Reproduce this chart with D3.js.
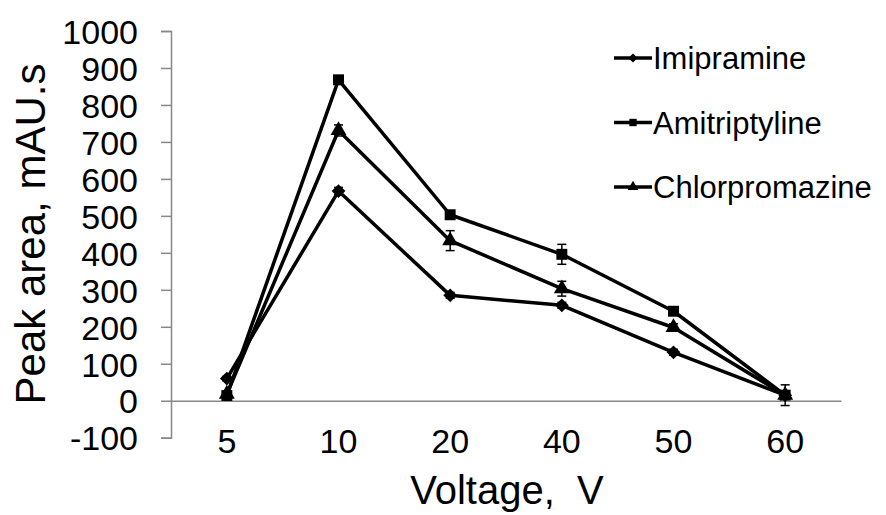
<!DOCTYPE html>
<html>
<head>
<meta charset="utf-8">
<script src="https://cdn.jsdelivr.net/npm/d3@7"></script>
<style>
  body { margin: 0; background: #fff; }
  svg text { font-family: "Liberation Sans", Arial, sans-serif; fill: #000; }
</style>
</head>
<body>
<div id="chart"></div>
<script>
var voltages = ["5", "10", "20", "40", "50", "60"];
var seriesNames = ["Imipramine", "Amitriptyline", "Chlorpromazine"];
var imipramine = [60, 567, 285, 258, 131, 15];
var amitriptyline = [14, 868, 503, 396, 242, 15];
var chlorpromazine = [18, 731, 433, 303, 198, 15];
var imipramineErr = [6, 10, 8, 8, 8, 6];
var amitriptylineErr = [5, 8, 5, 27, 8, 28];
var chlorpromazineErr = [5, 15, 27, 20, 10, 6];
var yTicks = [-100, 0, 100, 200, 300, 400, 500, 600, 700, 800, 900, 1000];

var width = 886, height = 515;

var svg = d3.select("#chart").append("svg")
    .attr("width", width)
    .attr("height", height);

var x = d3.scaleBand().domain(voltages).range([171, 841]).padding(0);
var y = d3.scaleLinear().domain([-100, 1000]).range([437.7, 31]);

// y axis
var yAxis = svg.append("g")
    .attr("transform", "translate(171,0)")
    .call(d3.axisLeft(y).tickValues(yTicks).tickSize(10).tickPadding(23)
      .tickFormat(function (d) { return String(d); }));
yAxis.select(".domain").attr("stroke", "#888").attr("stroke-width", 1.5);
yAxis.selectAll(".tick line").attr("stroke", "#888").attr("stroke-width", 1.5);
yAxis.selectAll(".tick text")
    .style("font-size", "34px")
    .attr("fill", "#000")
    .attr("dy", "0.36em");

// x axis at zero
var xAxis = svg.append("g")
    .attr("transform", "translate(0," + y(0) + ")")
    .call(d3.axisBottom(x).tickSize(0).tickSizeOuter(0).tickPadding(0));
xAxis.select(".domain").attr("stroke", "#888").attr("stroke-width", 1.5);
xAxis.selectAll(".tick text")
    .style("font-size", "34px")
    .attr("fill", "#000")
    .attr("dy", null)
    .attr("y", 52);

// axis titles
svg.append("text")
    .attr("transform", "translate(45,234) rotate(-90)")
    .attr("text-anchor", "middle")
    .style("font-size", "42px")
    .text("Peak area, mAU.s");

svg.append("text")
    .attr("x", 507)
    .attr("y", 504)
    .attr("text-anchor", "middle")
    .style("font-size", "40px")
    .style("white-space", "pre")
    .attr("xml:space", "preserve")
    .text("Voltage,  V");

var series = [
  { name: seriesNames[0], values: imipramine, err: imipramineErr, symbol: d3.symbolSquare, size: 95, rot: 45 },
  { name: seriesNames[1], values: amitriptyline, err: amitriptylineErr, symbol: d3.symbolSquare, size: 120, rot: 0 },
  { name: seriesNames[2], values: chlorpromazine, err: chlorpromazineErr, symbol: d3.symbolTriangle, size: 110, rot: 0 }
];

var cx = function (i) { return x(voltages[i]) + x.bandwidth() / 2; };

var line = d3.line()
    .x(function (d, i) { return cx(i); })
    .y(function (d) { return y(d); });

series.forEach(function (s) {
  var g = svg.append("g");

  g.append("path")
      .datum(s.values)
      .attr("d", line)
      .attr("fill", "none")
      .attr("stroke", "#000")
      .attr("stroke-width", 3.5)
      .attr("stroke-linejoin", "round");

  // error bars
  var eb = g.selectAll(".eb").data(s.values).enter().append("g");
  eb.append("line")
      .attr("x1", function (d, i) { return cx(i); })
      .attr("x2", function (d, i) { return cx(i); })
      .attr("y1", function (d, i) { return y(d + s.err[i]); })
      .attr("y2", function (d, i) { return y(d - s.err[i]); })
      .attr("stroke", "#000").attr("stroke-width", 1.5);
  [1, -1].forEach(function (sign) {
    eb.append("line")
        .attr("x1", function (d, i) { return cx(i) - 4.5; })
        .attr("x2", function (d, i) { return cx(i) + 4.5; })
        .attr("y1", function (d, i) { return y(d + sign * s.err[i]); })
        .attr("y2", function (d, i) { return y(d + sign * s.err[i]); })
        .attr("stroke", "#000").attr("stroke-width", 1.5);
  });

  g.selectAll(".pt").data(s.values).enter().append("path")
      .attr("d", d3.symbol().type(s.symbol).size(s.size))
      .attr("transform", function (d, i) { return "translate(" + cx(i) + "," + y(d) + ") rotate(" + s.rot + ")"; })
      .attr("fill", "#000");
});

// legend
var legend = svg.append("g").attr("transform", "translate(614,58)");
series.forEach(function (s, i) {
  var row = legend.append("g").attr("transform", "translate(0," + (i * 64.5) + ")");
  row.append("line")
      .attr("x1", 0).attr("x2", 38)
      .attr("stroke", "#000").attr("stroke-width", 3.5);
  row.append("path")
      .attr("d", d3.symbol().type(s.symbol).size(s.size * 0.45))
      .attr("transform", "translate(19,0) rotate(" + s.rot + ")")
      .attr("fill", "#000");
  row.append("text")
      .attr("x", 39)
      .attr("dy", "0.36em")
      .style("font-size", "31px")
      .text(s.name);
});
</script>
</body>
</html>
